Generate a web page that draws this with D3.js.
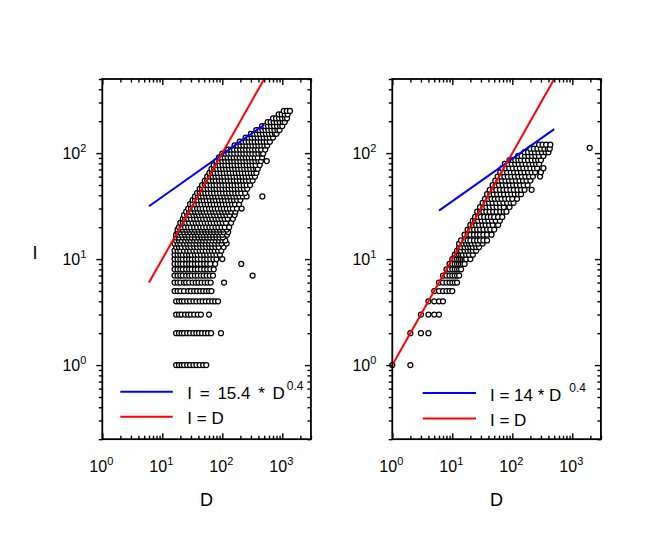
<!DOCTYPE html>
<html>
<head>
<meta charset="utf-8">
<script src="https://cdn.jsdelivr.net/npm/d3@7"></script>
<style>
  body { margin: 0; background: #fff; }
  svg { display: block; }
  text { font-family: "Liberation Sans", Arial, Helvetica, sans-serif; fill: #000; }
</style>
</head>
<body>
<div id="chart"></div>
<script>
// axis ranges and major ticks (log10 decades)
const xDomain = [1, 3000];
const yDomain = [0.2, 500];
const xMajor = [1, 10, 100, 1000];
const yMajor = [1, 10, 100];

// left panel: rows of [I, [D values]]
const leftRows = [
  [1, [17, 19, 21, 23, 26, 29, 33, 37, 42, 48, 54]],
  [2, [17, 19, 21, 23, 26, 29, 33, 37, 41, 46, 52, 58, 65, 95]],
  [3, [17, 19, 21, 24, 27, 30, 34, 39, 44, 60]],
  [4, [17, 19, 21, 23, 26, 29, 33, 37, 42, 47, 53, 60, 68, 76, 85]],
  [5, [16, 18, 20, 23, 27, 30, 34, 38, 43, 48, 54, 60, 66]],
  [6, [16, 18, 20, 23, 25, 28, 32, 36, 40, 45, 51, 57, 64, 107]],
  [7, [16, 18, 20, 22, 25, 28, 31, 35, 39, 44, 49, 55, 62, 70, 320]],
  [8, [16, 18, 20, 22, 25, 28, 31, 35, 39, 44, 50, 56, 63, 72]],
  [9, [16, 18, 20, 22, 25, 28, 31, 35, 39, 44, 50, 56, 63, 76, 207]],
  [10, [16, 18, 20, 22, 25, 28, 31, 35, 39, 44, 50, 56, 63, 71, 80, 100]],
  [11, [16, 18, 20, 22, 25, 28, 31, 35, 39, 44, 50, 56, 63, 71, 80, 91]],
  [12, [16, 18, 20, 23, 26, 29, 33, 37, 42, 47, 53, 60, 67, 75, 85, 96]],
  [13, [17, 19, 21, 24, 27, 30, 34, 38, 43, 48, 54, 61, 68, 77, 87, 105]],
  [14, [16, 18, 20, 23, 26, 29, 33, 37, 42, 47, 53, 60, 67, 76, 86, 97, 118]],
  [15, [17, 19, 21, 24, 27, 30, 34, 38, 43, 48, 54, 61, 69, 78, 88, 100, 112]],
  [16, [17, 19, 22, 25, 28, 31, 35, 40, 45, 50, 56, 63, 71, 80, 90, 102]],
  [17, [17, 19, 21, 24, 27, 31, 35, 39, 44, 49, 55, 62, 70, 79, 89, 100, 120]],
  [18, [18, 20, 23, 26, 29, 33, 37, 41, 46, 52, 58, 65, 73, 82, 93, 105, 125]],
  [19, [18, 20, 22, 25, 28, 31, 35, 40, 45, 51, 57, 64, 72, 81, 91, 103, 118]],
  [20, [19, 21, 24, 27, 30, 34, 38, 43, 48, 54, 61, 68, 77, 86, 97, 110, 130]],
  [22, [20, 22, 25, 28, 32, 36, 40, 45, 51, 57, 64, 72, 81, 91, 102, 115, 140]],
  [24, [22, 24, 27, 30, 34, 38, 43, 48, 54, 61, 68, 77, 86, 97, 109, 123, 150]],
  [26, [23, 26, 29, 33, 37, 41, 46, 52, 58, 65, 73, 82, 92, 104, 117, 132, 160]],
  [28, [25, 28, 31, 35, 39, 44, 49, 55, 62, 70, 78, 88, 99, 111, 125, 140, 165]],
  [30, [27, 30, 34, 38, 42, 47, 53, 60, 67, 75, 84, 95, 106, 119, 134, 150, 175, 210]],
  [33, [29, 32, 36, 40, 45, 51, 57, 64, 72, 81, 91, 102, 115, 129, 145, 163, 190]],
  [36, [32, 35, 39, 44, 49, 55, 62, 70, 78, 88, 99, 111, 125, 140, 157, 176, 200]],
  [39, [35, 39, 43, 48, 54, 60, 68, 76, 85, 96, 108, 121, 136, 153, 172, 193, 220, 254, 465]],
  [42, [38, 42, 47, 52, 58, 65, 73, 82, 92, 103, 116, 130, 146, 164, 184, 207, 240]],
  [46, [42, 46, 51, 57, 64, 72, 80, 90, 101, 114, 128, 144, 162, 182, 204, 230, 260]],
  [50, [46, 51, 57, 64, 72, 80, 90, 101, 113, 127, 143, 160, 180, 202, 227, 255, 290]],
  [55, [51, 56, 62, 70, 78, 88, 98, 110, 124, 139, 156, 175, 197, 221, 248, 280, 320]],
  [60, [56, 62, 69, 77, 86, 97, 108, 122, 137, 154, 173, 194, 218, 245, 275, 310, 350]],
  [65, [61, 67, 75, 84, 94, 106, 119, 133, 150, 168, 189, 212, 238, 267, 300, 335, 370]],
  [71, [66, 73, 82, 92, 103, 116, 130, 146, 164, 184, 207, 232, 260, 292, 328, 365, 390]],
  [77, [72, 80, 90, 101, 113, 127, 143, 160, 180, 202, 227, 255, 286, 321, 360, 420]],
  [84, [80, 89, 100, 112, 126, 141, 158, 178, 200, 224, 252, 283, 317, 356, 400, 440, 550]],
  [91, [88, 98, 110, 123, 138, 155, 174, 195, 219, 246, 276, 310, 348, 390, 460]],
  [99, [100, 112, 126, 141, 158, 178, 200, 224, 252, 283, 317, 356, 400, 450, 480]],
  [108, [125, 140, 157, 176, 198, 222, 249, 280, 314, 352, 395, 443, 520]],
  [118, [160, 179, 201, 225, 253, 284, 318, 357, 400, 449, 504, 560]],
  [128, [195, 219, 246, 276, 310, 348, 390, 438, 491, 551, 620]],
  [140, [245, 275, 309, 347, 389, 437, 490, 550, 620, 700]],
  [152, [300, 337, 378, 424, 476, 534, 600, 673, 755, 800]],
  [165, [370, 415, 466, 523, 587, 659, 740, 830, 900]],
  [180, [460, 516, 579, 650, 729, 818, 918, 1000]],
  [196, [570, 640, 718, 806, 905, 1015, 1100]],
  [213, [700, 786, 882, 990, 1111, 1200]],
  [232, [870, 976, 1096, 1230]],
  [250, [1060, 1190, 1340]]
];

// right panel: rows of [I, [D values]]
const rightRows = [
  [1, [1, 2]],
  [2, [2, 3, 4]],
  [3, [3, 4, 5, 6]],
  [4, [4, 5, 6, 7]],
  [5, [5, 6, 7, 8, 9, 10]],
  [6, [6, 7, 8, 9, 10, 11, 12]],
  [7, [7, 8, 9, 10, 11, 12, 13]],
  [8, [8, 9, 10, 11, 12, 13, 14]],
  [9, [9, 10, 11, 12, 13, 14, 15, 16]],
  [10, [10, 11, 12, 13, 14, 15, 16, 17, 20]],
  [11, [11, 12, 13, 14, 15, 17, 19, 22]],
  [12, [12, 13, 14, 16, 18, 20, 22, 25]],
  [13, [13, 14, 16, 18, 20, 22, 25, 28]],
  [14, [13, 15, 17, 19, 21, 24, 27, 32]],
  [15, [14, 16, 18, 20, 23, 26, 29, 33, 38]],
  [17, [16, 18, 20, 23, 26, 29, 33, 38, 45]],
  [19, [18, 20, 23, 26, 29, 33, 38, 43, 50]],
  [21, [20, 22, 25, 28, 32, 36, 41, 47, 58]],
  [23, [22, 24, 27, 31, 35, 40, 46, 53, 62]],
  [25, [24, 27, 30, 34, 39, 44, 50, 58, 68]],
  [28, [26, 29, 33, 37, 42, 48, 55, 63, 72, 80]],
  [31, [29, 33, 37, 42, 48, 55, 63, 72, 90]],
  [34, [32, 36, 41, 47, 54, 62, 71, 82, 94, 105]],
  [37, [35, 40, 45, 51, 58, 66, 76, 87, 100, 120]],
  [41, [38, 43, 49, 56, 64, 73, 84, 96, 110, 125, 140]],
  [45, [42, 48, 54, 62, 71, 81, 93, 106, 122, 140, 160, 210]],
  [50, [47, 53, 60, 69, 79, 90, 103, 118, 135, 155, 180]],
  [55, [52, 59, 67, 77, 88, 100, 115, 132, 151, 173, 200]],
  [60, [57, 65, 74, 84, 96, 110, 126, 144, 165, 190, 220, 290]],
  [66, [63, 72, 82, 94, 107, 122, 140, 160, 183, 210, 240, 300]],
  [72, [68, 78, 89, 102, 117, 134, 153, 175, 200, 230, 260, 330]],
  [79, [75, 86, 98, 112, 128, 147, 168, 192, 220, 250, 280]],
  [86, [90, 100, 112, 126, 140, 160, 183, 210, 240, 270, 300]],
  [94, [125, 143, 163, 186, 213, 243, 278, 330]],
  [102, [160, 183, 209, 239, 273, 312, 360, 400]],
  [110, [200, 229, 262, 300, 343, 392, 420]],
  [112, [1950]],
  [120, [280, 320, 366, 430]]
];

// fitted power laws I = a * D^b (from D = 6) and the line I = D
const fitCoef = [15.4, 14];
const fitExp = 0.4;
const fitFrom = 6;
const identFrom = [6, 1];
const lineTo = 500;
const legendLabels = ["I = 15.4 * D", "I = 14 * D"];

const width = 664, height = 551;
const panelW = 60 * Math.log10(xDomain[1] / xDomain[0]);
const panelH = 106 * Math.log10(yDomain[1] / yDomain[0]);
const plotTop = 79;
const panelLeft = [102.3, 392.3];

const svg = d3.select('#chart').append('svg')
  .attr('width', width)
  .attr('height', height);

function drawPanel(p, rows) {
  const x0 = panelLeft[p];
  const x = d3.scaleLog().domain(xDomain).range([x0, x0 + panelW]);
  const y = d3.scaleLog().domain(yDomain).range([plotTop + panelH, plotTop]);

  const g = svg.append('g');
  const clipId = 'clip' + p;
  svg.append('clipPath').attr('id', clipId)
    .append('rect')
    .attr('x', x0).attr('y', plotTop)
    .attr('width', panelW).attr('height', panelH);

  // scatter points
  const pts = rows.flatMap(([I, Ds]) => Ds.map(D => [D, I]));
  g.append('g')
    .selectAll('circle')
    .data(pts)
    .join('circle')
    .attr('cx', d => x(d[0]))
    .attr('cy', d => y(d[1]))
    .attr('r', 2.5)
    .attr('fill', '#fff')
    .attr('stroke', '#000')
    .attr('stroke-width', 1.25);

  // lines
  const line = d3.line().x(d => x(d[0])).y(d => y(d[1]));
  const lines = g.append('g').attr('clip-path', `url(#${clipId})`);
  lines.append('path')
    .attr('d', line([fitFrom, lineTo].map(D => [D, fitCoef[p] * Math.pow(D, fitExp)])))
    .attr('fill', 'none').attr('stroke', '#0000ff').attr('stroke-width', 2);
  lines.append('path')
    .attr('d', line([identFrom[p], lineTo].map(D => [D, D])))
    .attr('fill', 'none').attr('stroke', '#ff0000').attr('stroke-width', 2);

  // ticks on all four sides
  const isMajor = v => Math.abs(Math.log10(v) - Math.round(Math.log10(v))) < 1e-6;
  const xMinor = x.ticks().filter(v => !isMajor(v));
  const yMinor = y.ticks().filter(v => !isMajor(v));

  const axes = [
    [() => d3.axisBottom(x), `translate(0,${plotTop + panelH})`, xMinor, xMajor, -3.5, -6],
    [() => d3.axisTop(x), `translate(0,${plotTop})`, xMinor, xMajor, -3.5, -6],
    [() => d3.axisLeft(y), `translate(${x0},0)`, yMinor, yMajor, 3.5, 6],
    [() => d3.axisRight(y), `translate(${x0 + panelW},0)`, yMinor, yMajor, -3.5, -6]
  ];
  axes.forEach(([mk, tr, minor, major, sMin, sMaj]) => {
    [[minor, sMin], [major, sMaj]].forEach(([vals, size]) => {
      const a = g.append('g')
        .attr('transform', tr)
        .call(mk().tickValues(vals).tickSize(size).tickFormat(''));
      a.select('.domain').remove();
      a.selectAll('line').attr('stroke', '#000').attr('stroke-width', 1.4);
    });
  });

  // frame
  g.append('rect')
    .attr('x', x0).attr('y', plotTop)
    .attr('width', panelW).attr('height', panelH)
    .attr('fill', 'none').attr('stroke', '#000').attr('stroke-width', 1.8);

  // tick labels with superscripts
  xMajor.forEach(v => {
    const t = g.append('text')
      .attr('x', x(v) - 1)
      .attr('y', plotTop + panelH + 32.5)
      .attr('text-anchor', 'middle')
      .style('font-size', '16px');
    t.append('tspan').text('10');
    t.append('tspan').attr('dy', -7).style('font-size', '11px').text(Math.round(Math.log10(v)));
  });
  yMajor.forEach(v => {
    const t = g.append('text')
      .attr('x', x0 - 16)
      .attr('y', y(v) + 6)
      .attr('text-anchor', 'end')
      .style('font-size', '16px');
    t.append('tspan').text('10');
    t.append('tspan').attr('dy', -7).style('font-size', '11px').text(Math.round(Math.log10(v)));
  });

  // axis titles
  g.append('text')
    .attr('x', x0 + panelW / 2)
    .attr('y', 506)
    .attr('text-anchor', 'middle')
    .style('font-size', '18px')
    .text('D');
  if (p === 0) {
    g.append('text')
      .attr('x', 35)
      .attr('y', 259)
      .attr('text-anchor', 'middle')
      .style('font-size', '18px')
      .text('I');
  }

  // legend
  const lx = p === 0 ? [18, 70.5, 85] : [30.4, 83.7, 97.7];
  const ly = p === 0 ? [391.7, 416.7] : [393, 418.5];
  const leg = g.append('g');
  [['#0000ff', ly[0]], ['#ff0000', ly[1]]].forEach(([c, yy]) => {
    leg.append('line')
      .attr('x1', x0 + lx[0]).attr('x2', x0 + lx[1])
      .attr('y1', yy).attr('y2', yy)
      .attr('stroke', c).attr('stroke-width', 2);
  });
  const t1 = leg.append('text')
    .attr('x', x0 + lx[2]).attr('y', ly[0] + 7.5)
    .style('font-size', '17px')
    .style('word-spacing', p === 0 ? '3px' : '0px');
  t1.append('tspan').text(legendLabels[p]);
  t1.append('tspan').attr('dy', -9).attr('dx', p === 0 ? 2 : 8)
    .style('font-size', '12px').text(fitExp);
  leg.append('text')
    .attr('x', x0 + lx[2]).attr('y', ly[1] + 7.5)
    .style('font-size', '17px')
    .text('I = D');
}

drawPanel(0, leftRows);
drawPanel(1, rightRows);
</script>
</body>
</html>
